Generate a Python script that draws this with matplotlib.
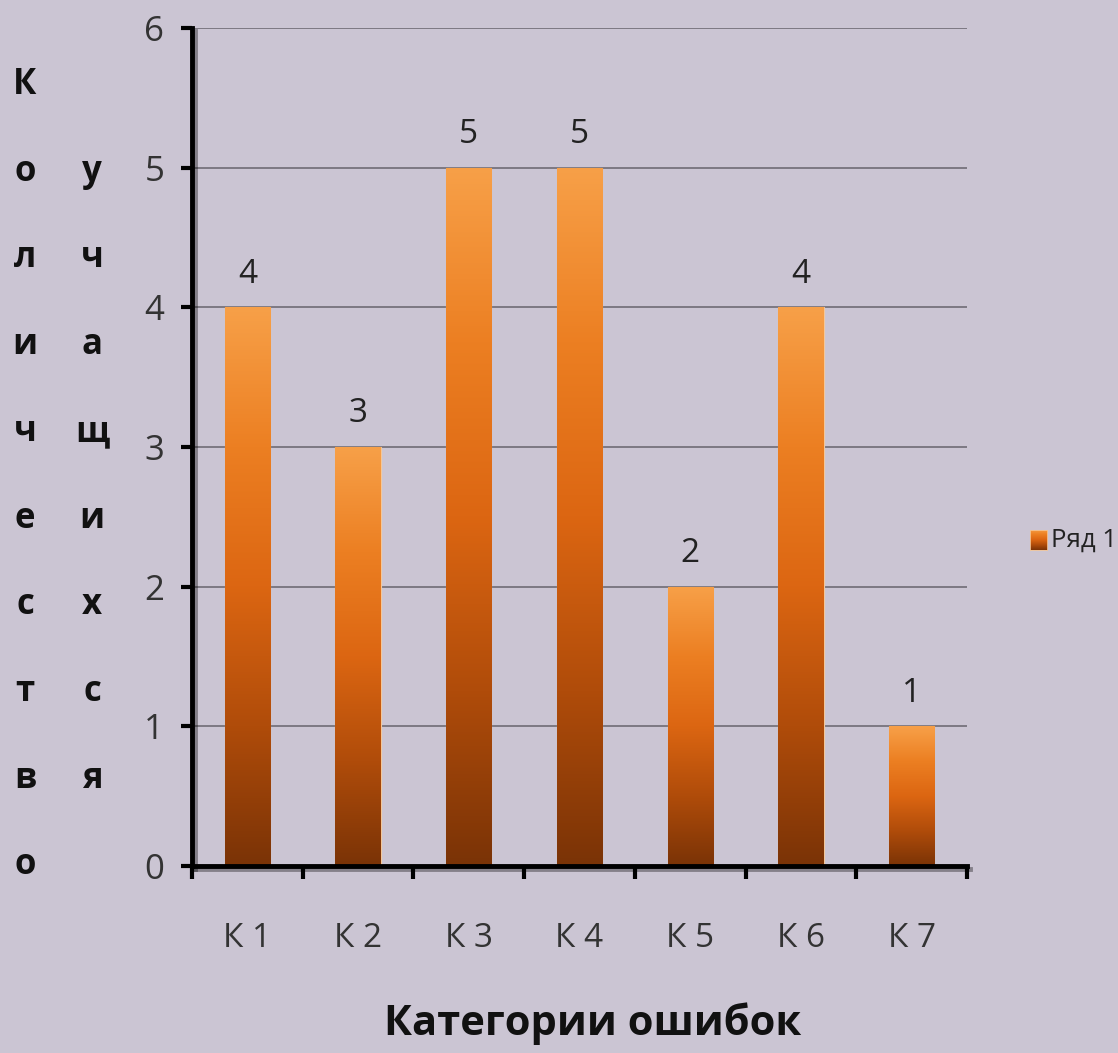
import numpy as np
import matplotlib
matplotlib.use("Agg")
import matplotlib.pyplot as plt
from matplotlib.colors import LinearSegmentedColormap
import matplotlib.patheffects as pe

categories = ["К 1", "К 2", "К 3", "К 4", "К 5", "К 6", "К 7"]
values = [4, 3, 5, 5, 2, 4, 1]
series_name = "Ряд 1"
x_title = "Категории ошибок"
y_title_1 = "Количество"
y_title_2 = "учащихся"

bg = "#cbc5d3"
plt.rcParams["font.family"] = ["Open Sans", "DejaVu Sans"]

fig = plt.figure(figsize=(11.18, 10.53), dpi=100, facecolor=bg)
ax = fig.add_axes([0.1717, 0.1776, 0.6933, 0.7958])
ax.set_facecolor(bg)

grad = LinearSegmentedColormap.from_list(
    "bar", ["#7a3306", "#b04c0a", "#dc6612", "#ec7f22", "#f7a048"])

x = np.arange(len(categories))
bars = ax.bar(x, values, width=0.41, color="#e06a12", edgecolor="#f3c79a",
              linewidth=0.8, zorder=3)
g = np.linspace(0, 1, 256).reshape(-1, 1)
for b in bars:
    x0, w, h = b.get_x(), b.get_width(), b.get_height()
    im = ax.imshow(g, cmap=grad, origin="lower", aspect="auto",
                   extent=[x0, x0 + w, 0, h], zorder=3.5)
    im.set_clip_path(b)
    ax.text(x0 + w / 2, h + 0.12, str(int(h)), ha="center", va="bottom",
            fontsize=24, color="#222222", zorder=5)

ax.set_xlim(-0.5, len(categories) - 0.5)
ax.set_ylim(0, 6)
ax.set_aspect("auto")

ax.set_yticks(range(0, 7))
ax.yaxis.grid(True, color="#6f6c75", linewidth=1.2, zorder=1)
ax.set_axisbelow(True)
ax.tick_params(axis="y", length=8, width=3, pad=12, labelsize=25,
               labelcolor="#333333", color="black")

ax.set_xticks(x)
ax.set_xticklabels(categories)
ax.set_xticks(np.arange(-0.5, len(categories)), minor=True)
ax.tick_params(axis="x", which="major", length=0, pad=40, labelsize=24,
               labelcolor="#333333")
ax.tick_params(axis="x", which="minor", length=9, width=3, color="black")

for s in ["top", "right"]:
    ax.spines[s].set_visible(False)
shadow = [pe.SimpleLineShadow(offset=(2, -2), alpha=0.35), pe.Normal()]
for s in ["left", "bottom"]:
    ax.spines[s].set_linewidth(3.5)
    ax.spines[s].set_color("black")
    ax.spines[s].set_path_effects(shadow)
    ax.spines[s].set_zorder(4)

fig.text(0.530, 0.028, x_title, ha="center", va="center", fontsize=30,
         fontweight="bold", color="#111111")

# vertical axis title, one letter per line
step = 86.7 / 1053
for i, ch in enumerate(y_title_1):
    fig.text(25 / 1118, 1 - 85 / 1053 - i * step, ch, ha="center",
             va="center", fontsize=25, fontweight="bold", color="#111111")
for i, ch in enumerate(y_title_2):
    fig.text(92 / 1118, 1 - 85 / 1053 - (i + 1) * step, ch, ha="center",
             va="center", fontsize=25, fontweight="bold", color="#111111")

# legend
lx, ly = 1030 / 1118, 1 - 540 / 1053
sq = fig.add_axes([lx, ly - 0.0095, 0.0155, 0.019])
sq.imshow(g, cmap=grad, origin="lower", aspect="auto")
sq.set_xticks([])
sq.set_yticks([])
for s in sq.spines.values():
    s.set_color("#f3c79a")
    s.set_linewidth(0.6)
fig.text(1051 / 1118, ly, series_name, ha="left", va="center", fontsize=18.5,
         color="#222222")

fig.savefig("out.png", dpi=100, facecolor=bg)
